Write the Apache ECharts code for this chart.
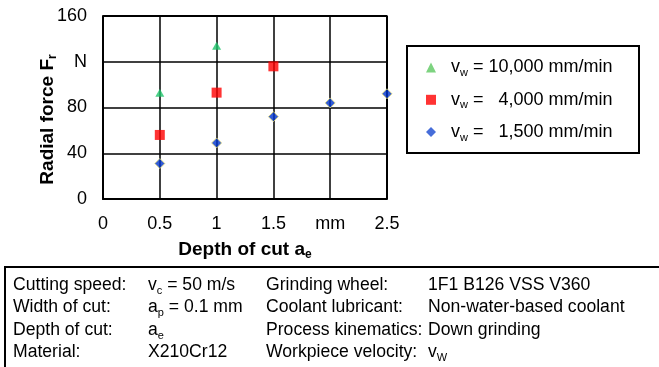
<!DOCTYPE html>
<html>
<head>
<meta charset="utf-8">
<script src="https://cdn.jsdelivr.net/npm/echarts@6/dist/echarts.min.js"></script>
<style>
html,body{margin:0;padding:0;background:#fff;}
#chart{width:659px;height:367px;}
</style>
</head>
<body>
<div id="chart"></div>
<script>
// Data
var depthOfCut = [0.5, 1, 1.5, 2, 2.5];
var force10000 = [[0.5, 93], [1, 134]];
var force4000 = [[0.5, 56], [1, 93], [1.5, 116]];
var force1500 = [[0.5, 31], [1, 49], [1.5, 72], [2, 84], [2.5, 92]];
var yTickLabels = {0: '0', 40: '40', 80: '80', 120: 'N', 160: '160'};
var xTickLabels = {0: '0', 0.5: '0.5', 1: '1', 1.5: '1.5', 2: 'mm', 2.5: '2.5'};
var legendNames = ['10,000', '4,000', '1,500'];
var tableRows = [
  ['Cutting speed:', ['v', 'c', ' = 50 m/s'], 'Grinding wheel:', '1F1 B126 VSS V360'],
  ['Width of cut:', ['a', 'p', ' = 0.1 mm'], 'Coolant lubricant:', 'Non-water-based coolant'],
  ['Depth of cut:', ['a', 'e', ''], 'Process kinematics:', 'Down grinding'],
  ['Material:', ['X210Cr12', '', ''], 'Workpiece velocity:', ['v', 'W', '']]
];

var FONT = 'Liberation Sans, Arial, sans-serif';
var chart = echarts.init(document.getElementById('chart'), null, {renderer: 'canvas'});

function sub(arr) {
  return '{m|' + arr[0] + '}' + (arr[1] ? '{s|' + arr[1] + '}' : '') + (arr[2] ? '{m|' + arr[2] + '}' : '');
}
var richText = {
  m: {fontSize: 17.6, fontFamily: FONT, color: '#000', lineHeight: 22},
  s: {fontSize: 11, fontFamily: FONT, color: '#000', lineHeight: 11, verticalAlign: 'bottom'}
};

var graphics = [];
// table box
graphics.push({
  type: 'rect',
  shape: {x: 5, y: 267, width: 670, height: 120},
  style: {fill: null, stroke: '#000', lineWidth: 2}, silent: true
});
// legend box
graphics.push({
  type: 'rect',
  shape: {x: 407, y: 46, width: 232, height: 107},
  style: {fill: null, stroke: '#000', lineWidth: 2}, silent: true
});
var colX = [13, 148, 266, 428];
var rowY = [285, 307.5, 330, 352];
tableRows.forEach(function (row, ri) {
  row.forEach(function (cell, ci) {
    var txt = Array.isArray(cell) ? sub(cell) : '{m|' + cell + '}';
    graphics.push({
      type: 'text', x: colX[ci], y: rowY[ri],
      style: {text: txt, rich: richText, fill: '#000', verticalAlign: 'middle', align: 'left'}, silent: true
    });
  });
});

var legendSpaces = {'10,000': ' ', '4,000': '   ', '1,500': '   '};
var seriesNames = legendNames.map(function (n) { return 'vw = ' + n + ' mm/min'; });
var legendIcons = ['triangle', 'rect', 'diamond'];
var legendIconColors = ['#5cc860', '#ff0000', '#1848d0'];

var option = {
  backgroundColor: '#fff',
  animation: false,
  grid: {left: 103, top: 16, width: 284, height: 183, containLabel: false, show: false},
  legend: {
    orient: 'vertical',
    left: 426, top: 58.5,
    padding: 0,
    itemGap: 12.3,
    itemWidth: 10, itemHeight: 10,
    data: seriesNames.map(function (n, i) {
      return {name: n, icon: legendIcons[i], itemStyle: {color: legendIconColors[i], borderWidth: 0}};
    }),
    formatter: function (name) {
      var val = name.replace('vw = ', '').replace(' mm/min', '');
      return '{m0|v}{s|w}{m| =' + legendSpaces[val] + val + ' mm/min}';
    },
    textStyle: {
      fontFamily: FONT, fontSize: 18, color: '#000',
      rich: {
        m0: {fontSize: 18, fontFamily: FONT, color: '#000', lineHeight: 22, padding: [0, 0, 0, 10]},
        m: {fontSize: 18, fontFamily: FONT, color: '#000', lineHeight: 22},
        s: {fontSize: 11, fontFamily: FONT, color: '#000', lineHeight: 11, verticalAlign: 'bottom'}
      }
    }
  },
  xAxis: {
    type: 'value', min: 0, max: 2.5, interval: 0.5,
    name: '{b|Depth of cut a}{bs|e}',
    nameLocation: 'middle', nameGap: 40,
    nameMoveOverlap: false,
    nameTextStyle: {
      rich: {
        b: {fontSize: 19, fontWeight: 'bold', fontFamily: FONT, color: '#000', lineHeight: 22},
        bs: {fontSize: 12, fontWeight: 'bold', fontFamily: FONT, color: '#000', lineHeight: 12, verticalAlign: 'bottom'}
      }
    },
    axisLine: {show: true, onZero: false, lineStyle: {color: '#000', width: 2}},
    axisTick: {show: false},
    axisLabel: {
      margin: 16, fontSize: 18, fontFamily: FONT, color: '#000',
      formatter: function (v) { return xTickLabels[v] !== undefined ? xTickLabels[v] : ''; }
    },
    splitLine: {show: true, lineStyle: {color: '#000', width: 1.5}}
  },
  yAxis: {
    type: 'value', min: 0, max: 160, interval: 40,
    name: '{b|Radial force F}{bs|r}',
    nameLocation: 'middle', nameGap: 44, nameRotate: 90,
    nameMoveOverlap: false,
    nameTextStyle: {
      padding: [0, 24, 0, 0],
      rich: {
        b: {fontSize: 19, fontWeight: 'bold', fontFamily: FONT, color: '#000', lineHeight: 22},
        bs: {fontSize: 12, fontWeight: 'bold', fontFamily: FONT, color: '#000', lineHeight: 12, verticalAlign: 'bottom'}
      }
    },
    axisLine: {show: true, onZero: false, lineStyle: {color: '#000', width: 2}},
    axisTick: {show: false},
    axisLabel: {
      margin: 16, fontSize: 18, fontFamily: FONT, color: '#000',
      formatter: function (v) { return yTickLabels[v] !== undefined ? yTickLabels[v] : ''; }
    },
    splitLine: {show: true, lineStyle: {color: '#000', width: 1.5}}
  },
  series: [
    {
      name: seriesNames[0], type: 'scatter', data: force10000,
      symbol: 'triangle', symbolSize: [9, 8],
      itemStyle: {color: '#1ec46a'}, z: 5
    },
    {
      name: seriesNames[1], type: 'scatter', data: force4000,
      symbol: 'rect', symbolSize: 10,
      itemStyle: {color: '#ff0000'}, z: 5
    },
    {
      name: seriesNames[2], type: 'scatter', data: force1500,
      symbol: 'diamond', symbolSize: 10,
      itemStyle: {color: '#0033cc', borderColor: '#e8e070', borderWidth: 1}, z: 5
    },
    {
      // top and right border of plot area
      type: 'line', silent: true, symbol: 'none',
      data: [[0, 160], [2.5, 160], [2.5, 0]],
      lineStyle: {color: '#000', width: 2}, z: 3,
      legendHoverLink: false
    }
  ],
  graphic: graphics
};
chart.setOption(option);
</script>
</body>
</html>
